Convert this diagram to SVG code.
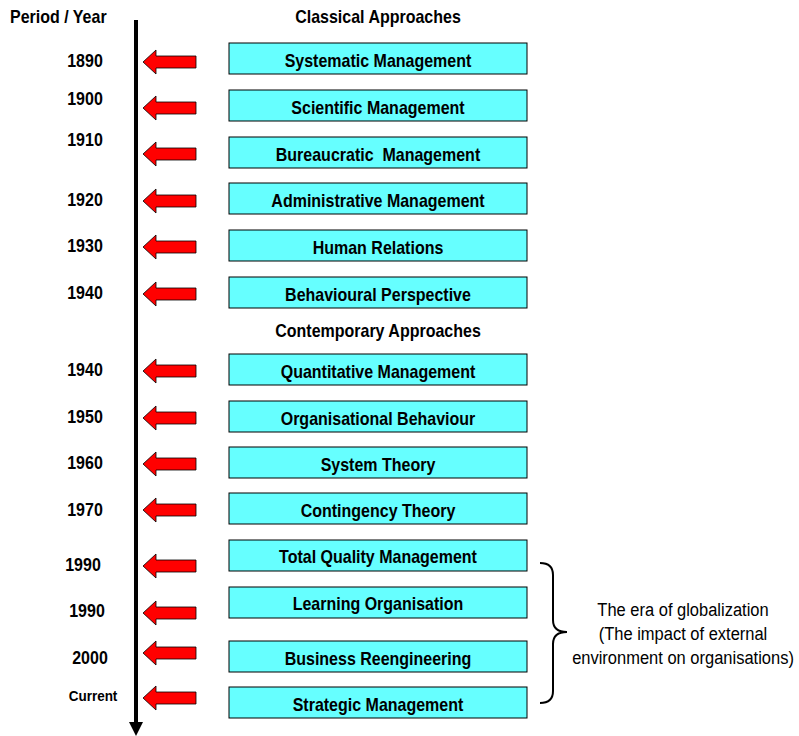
<svg xmlns="http://www.w3.org/2000/svg" width="799" height="736" viewBox="0 0 799 736">
<defs>
<style>
text{font-family:"Liberation Sans",Arial,sans-serif;}
.h{font-size:16px;font-weight:bold;fill:#000;}
.yr{font-size:16px;font-weight:bold;fill:#000;text-anchor:middle;}
.cur{font-size:13.5px;font-weight:bold;fill:#000;text-anchor:middle;}
.box rect{fill:#66ffff;stroke:#000;stroke-width:1;}
.box text{font-size:16px;font-weight:bold;fill:#000;text-anchor:middle;}
.ra{fill:#ff0000;stroke:#000;stroke-width:0.8;}
.note{font-size:16.5px;fill:#000;text-anchor:middle;}
</style>
<path id="ra" class="ra" d="M143,0 L156,-12 L156,-6 L196,-6 L196,6 L156,6 L156,12 Z"/>
</defs>
<rect width="799" height="736" fill="#fff"/>
<text class="h" transform="translate(10,23) scale(1,1.15)">Period / Year</text>
<text class="h" text-anchor="middle" transform="translate(378,23) scale(1,1.15)">Classical Approaches</text>
<text class="h" text-anchor="middle" transform="translate(378,337) scale(1,1.15)">Contemporary Approaches</text>

<g id="connectors">
<line x1="136" y1="20" x2="136" y2="724" stroke="#000" stroke-width="4"/>
<path d="M129,722 L143,722 L136,736 Z" fill="#000"/>
<use href="#ra" y="62"/>
<use href="#ra" y="108"/>
<use href="#ra" y="154"/>
<use href="#ra" y="201"/>
<use href="#ra" y="247"/>
<use href="#ra" y="294"/>
<use href="#ra" y="371"/>
<use href="#ra" y="418"/>
<use href="#ra" y="464"/>
<use href="#ra" y="510"/>
<use href="#ra" y="566"/>
<use href="#ra" y="613"/>
<use href="#ra" y="653"/>
<use href="#ra" y="698"/>
</g>

<g id="years">
<text class="yr" transform="translate(85,67) scale(1,1.15)">1890</text>
<text class="yr" transform="translate(85,105) scale(1,1.15)">1900</text>
<text class="yr" transform="translate(85,146) scale(1,1.15)">1910</text>
<text class="yr" transform="translate(85,206) scale(1,1.15)">1920</text>
<text class="yr" transform="translate(85,252) scale(1,1.15)">1930</text>
<text class="yr" transform="translate(85,299) scale(1,1.15)">1940</text>
<text class="yr" transform="translate(85,376) scale(1,1.15)">1940</text>
<text class="yr" transform="translate(85,423) scale(1,1.15)">1950</text>
<text class="yr" transform="translate(85,469) scale(1,1.15)">1960</text>
<text class="yr" transform="translate(85,516) scale(1,1.15)">1970</text>
<text class="yr" transform="translate(83,571) scale(1,1.15)">1990</text>
<text class="yr" transform="translate(87,617) scale(1,1.15)">1990</text>
<text class="yr" transform="translate(90,664) scale(1,1.15)">2000</text>
<text class="cur" transform="translate(93,701) scale(1,1.15)">Current</text>
</g>

<g id="n1" class="box"><rect x="229" y="43" width="298" height="31"/><text transform="translate(378,67) scale(1,1.15)">Systematic Management</text></g>
<g id="n2" class="box"><rect x="229" y="90" width="298" height="31"/><text transform="translate(378,114) scale(1,1.15)">Scientific Management</text></g>
<g id="n3" class="box"><rect x="229" y="137" width="298" height="31"/><text transform="translate(378,161) scale(1,1.15)">Bureaucratic&#160; Management</text></g>
<g id="n4" class="box"><rect x="229" y="183" width="298" height="31"/><text transform="translate(378,207) scale(1,1.15)">Administrative Management</text></g>
<g id="n5" class="box"><rect x="229" y="230" width="298" height="31"/><text transform="translate(378,254) scale(1,1.15)">Human Relations</text></g>
<g id="n6" class="box"><rect x="229" y="277" width="298" height="31"/><text transform="translate(378,301) scale(1,1.15)">Behavioural Perspective</text></g>
<g id="n7" class="box"><rect x="229" y="354" width="298" height="31"/><text transform="translate(378,378) scale(1,1.15)">Quantitative Management</text></g>
<g id="n8" class="box"><rect x="229" y="401" width="298" height="31"/><text transform="translate(378,425) scale(1,1.15)">Organisational Behaviour</text></g>
<g id="n9" class="box"><rect x="229" y="447" width="298" height="31"/><text transform="translate(378,471) scale(1,1.15)">System Theory</text></g>
<g id="n10" class="box"><rect x="229" y="493" width="298" height="31"/><text transform="translate(378,517) scale(1,1.15)">Contingency Theory</text></g>
<g id="n11" class="box"><rect x="229" y="540" width="298" height="31"/><text transform="translate(378,563) scale(1,1.15)">Total Quality Management</text></g>
<g id="n12" class="box"><rect x="229" y="587" width="298" height="31"/><text transform="translate(378,610) scale(1,1.15)">Learning Organisation</text></g>
<g id="n13" class="box"><rect x="229" y="641" width="298" height="31"/><text transform="translate(378,665) scale(1,1.15)">Business Reengineering</text></g>
<g id="n14" class="box"><rect x="229" y="687" width="298" height="31"/><text transform="translate(378,711) scale(1,1.15)">Strategic Management</text></g>

<g id="brace">
<path d="M540,563 Q553,563 553,575 L553,620 Q553,632 567,632 Q553,632 553,644 L553,691 Q553,703 540,703" fill="none" stroke="#000" stroke-width="2"/>
<text class="note" transform="translate(683,616) scale(1,1.1)">The era of globalization</text>
<text class="note" transform="translate(683,640) scale(1,1.1)">(The impact of external</text>
<text class="note" transform="translate(683,664) scale(1,1.1)">environment on organisations)</text>
</g>
</svg>
